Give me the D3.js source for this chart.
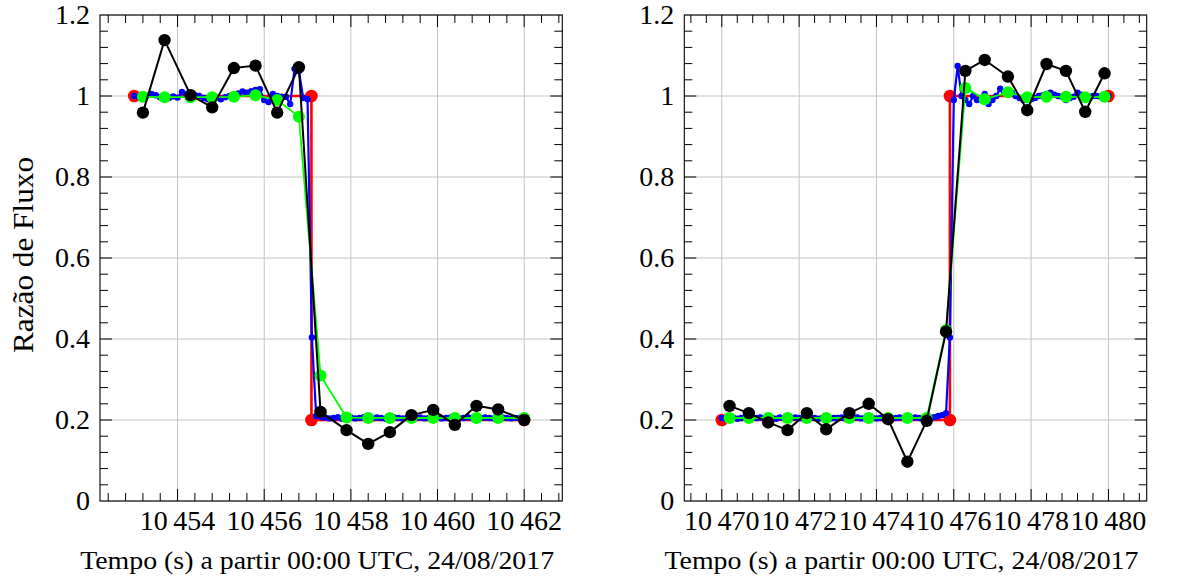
<!DOCTYPE html>
<html><head><meta charset="utf-8">
<script src="https://cdn.jsdelivr.net/npm/d3@7"></script>
<style>body{margin:0;background:#fff}svg{display:block}</style>
</head><body>
<svg id="chart" width="1178" height="583"></svg>
<script>
// ---------- DATA ----------
const yTicks = [0, 0.2, 0.4, 0.6, 0.8, 1, 1.2];
const leftXTicks = [10454, 10456, 10458, 10460, 10462];
const rightXTicks = [10470, 10472, 10474, 10476, 10478, 10480];
const xLabel = "Tempo (s) a partir 00:00 UTC, 24/08/2017";
const yLabel = "Razão de Fluxo";

// Left panel
const leftRedT = [10453.0, 10457.09, 10457.09, 10462.0];
const leftRedV = [1, 1, 0.2, 0.2];
const leftBlueT = [
 10453.0,10453.1,10453.2,10453.3,10453.4,10453.5,10453.6,10453.7,10453.8,10453.9,
 10454.0,10454.1,10454.2,10454.3,10454.4,10454.5,10454.6,10454.7,10454.8,10454.9,
 10455.0,10455.1,10455.2,10455.3,10455.4,10455.5,10455.6,10455.7,10455.8,10455.9,
 10456.0,10456.1,10456.2,10456.3,10456.4,10456.5,10456.6,10456.7,10456.8,10456.9,
 10457.0,10457.1,10457.2,10457.3,10457.4,10457.5,10457.6,10457.7,10457.8,10457.9,
 10458.0,10458.1,10458.2,10458.3,10458.4,10458.5,10458.6,10458.7,10458.8,10458.9,
 10459.0,10459.1,10459.2,10459.3,10459.4,10459.5,10459.6,10459.7,10459.8,10459.9,
 10460.0,10460.1,10460.2,10460.3,10460.4,10460.5,10460.6,10460.7,10460.8,10460.9,
 10461.0,10461.1,10461.2,10461.3,10461.4,10461.5,10461.6,10461.7,10461.8,10461.9,
 10462.0];
const leftBlueV = [
 1.000,0.998,1.003,1.001,1.005,1.002,0.997,0.996,0.995,0.999,
 0.996,1.010,1.004,1.000,1.002,1.000,0.995,0.992,0.998,0.996,
 0.992,0.997,1.000,1.003,1.006,1.011,1.008,1.012,1.015,1.017,
 0.990,0.985,1.005,1.000,0.998,0.998,0.980,1.067,1.062,0.995,
 0.992,0.404,0.210,0.208,0.206,0.204,0.205,0.207,0.203,0.205,
 0.206,0.204,0.205,0.207,0.205,0.204,0.206,0.205,0.203,0.205,
 0.206,0.205,0.204,0.205,0.207,0.205,0.206,0.204,0.205,0.205,
 0.206,0.204,0.205,0.206,0.205,0.204,0.205,0.207,0.205,0.204,
 0.205,0.206,0.205,0.204,0.205,0.206,0.205,0.204,0.205,0.205,
 0.205];
const leftT = [10453.2,10453.7,10454.3,10454.8,10455.3,10455.8,10456.3,10456.8,10457.3,
               10457.9,10458.4,10458.9,10459.4,10459.9,10460.4,10460.9,10461.4,10462.0];
const leftGreenV = [0.998,0.997,0.997,0.997,0.998,1.002,0.990,0.949,0.310,
                    0.206,0.205,0.205,0.205,0.205,0.205,0.205,0.205,0.205];
const leftBlackV = [0.959,1.138,1.002,0.972,1.069,1.075,0.959,1.071,0.220,
                    0.175,0.141,0.170,0.212,0.225,0.188,0.235,0.226,0.200];

// Right panel
const rightRedT = [10470.0, 10475.9, 10475.9, 10480.0];
const rightRedV = [0.2, 0.2, 1, 1];
const rightBlueT = [
 10470.0,10470.1,10470.2,10470.3,10470.4,10470.5,10470.6,10470.7,10470.8,10470.9,
 10471.0,10471.1,10471.2,10471.3,10471.4,10471.5,10471.6,10471.7,10471.8,10471.9,
 10472.0,10472.1,10472.2,10472.3,10472.4,10472.5,10472.6,10472.7,10472.8,10472.9,
 10473.0,10473.1,10473.2,10473.3,10473.4,10473.5,10473.6,10473.7,10473.8,10473.9,
 10474.0,10474.1,10474.2,10474.3,10474.4,10474.5,10474.6,10474.7,10474.8,10474.9,
 10475.0,10475.1,10475.2,10475.3,10475.4,10475.5,10475.6,10475.7,10475.8,10475.9,
 10476.0,10476.1,10476.2,10476.3,10476.4,10476.5,10476.6,10476.7,10476.8,10476.9,
 10477.0,10477.1,10477.2,10477.3,10477.4,10477.5,10477.6,10477.7,10477.8,10477.9,
 10478.0,10478.1,10478.2,10478.3,10478.4,10478.5,10478.6,10478.7,10478.8,10478.9,
 10479.0,10479.1,10479.2,10479.3,10479.4,10479.5,10479.6,10479.7,10479.8,10479.9,
 10480.0];
const rightBlueV = [
 0.205,0.204,0.206,0.205,0.203,0.205,0.206,0.204,0.205,0.205,
 0.206,0.204,0.205,0.205,0.203,0.206,0.205,0.204,0.205,0.206,
 0.205,0.204,0.205,0.206,0.205,0.203,0.205,0.206,0.204,0.205,
 0.205,0.206,0.204,0.205,0.205,0.206,0.204,0.205,0.206,0.205,
 0.204,0.205,0.206,0.205,0.204,0.205,0.206,0.205,0.204,0.205,
 0.206,0.205,0.204,0.205,0.206,0.207,0.210,0.212,0.217,0.404,
 0.990,1.074,1.000,0.990,0.980,1.000,0.990,0.992,1.005,0.980,
 0.990,1.000,1.018,1.010,1.005,1.008,1.000,0.995,0.990,0.990,
 0.992,0.995,1.000,1.002,1.005,1.008,1.003,1.000,0.998,0.990,
 0.995,0.998,1.008,1.003,0.998,0.995,1.000,1.000,0.998,1.000,
 1.000];
const rightT = [10470.2,10470.7,10471.2,10471.7,10472.2,10472.7,10473.3,10473.8,10474.3,10474.8,
                10475.3,10475.8,10476.3,10476.8,10477.4,10477.9,10478.4,10478.9,10479.4,10479.9];
const rightGreenV = [0.205,0.205,0.205,0.205,0.205,0.205,0.205,0.205,0.205,0.205,
                     0.205,0.422,1.020,0.992,1.009,0.997,0.998,0.998,0.997,0.998];
const rightBlackV = [0.235,0.217,0.194,0.175,0.217,0.177,0.217,0.240,0.202,0.097,
                     0.198,0.418,1.062,1.089,1.048,0.965,1.079,1.062,0.961,1.056];

// ---------- DRAWING ----------
const FONT = "'Liberation Serif','Times New Roman',serif";
const svg = d3.select("#chart");
const plotTop = 15, plotBottom = 501;
const fmtX = d3.formatLocale({decimal: ".", thousands: "\u2009", grouping: [3], currency: ["", ""]}).format(",");
const fmtY = d3.format("");

function zip(t, v) { return t.map((d, i) => [d, v[i]]); }

function panel(cfg) {
  const x = d3.scaleLinear().domain(cfg.xDomain).range([cfg.x0, cfg.x1]);
  const y = d3.scaleLinear().domain([0, 1.2]).range([plotBottom, plotTop]);
  const g = svg.append("g");

  // grid
  const grid = g.append("g").attr("stroke", "#c4c4c4").attr("stroke-width", 1);
  cfg.xTicks.forEach(t => grid.append("line").attr("x1", x(t)).attr("x2", x(t)).attr("y1", plotTop).attr("y2", plotBottom));
  yTicks.forEach(t => grid.append("line").attr("x1", cfg.x0).attr("x2", cfg.x1).attr("y1", y(t)).attr("y2", y(t)));

  // ticks
  const tk = g.append("g").attr("stroke", "#000").attr("stroke-width", 1);
  const xMinor = d3.range(cfg.xTicks[0] - 10 * 0.4, cfg.xTicks[cfg.xTicks.length - 1] + 10 * 0.4, 0.4)
    .filter(t => t > cfg.xDomain[0] && t < cfg.xDomain[1]);
  xMinor.forEach(t => {
    const isMajor = cfg.xTicks.some(m => Math.abs(m - t) < 1e-6);
    const L = isMajor ? 12 : 8;
    tk.append("line").attr("x1", x(t)).attr("x2", x(t)).attr("y1", plotBottom).attr("y2", plotBottom - L);
    tk.append("line").attr("x1", x(t)).attr("x2", x(t)).attr("y1", plotTop).attr("y2", plotTop + L);
  });
  d3.range(0, 1.2001, 0.04).forEach(t => {
    const isMajor = yTicks.some(m => Math.abs(m - t) < 1e-6);
    if (t < 1e-6 || t > 1.2 - 1e-6) return;
    const L = isMajor ? 12 : 8;
    tk.append("line").attr("x1", cfg.x0).attr("x2", cfg.x0 + L).attr("y1", y(t)).attr("y2", y(t));
    tk.append("line").attr("x1", cfg.x1).attr("x2", cfg.x1 - L).attr("y1", y(t)).attr("y2", y(t));
  });

  // series
  const line = d3.line().x(d => x(d[0])).y(d => y(d[1]));
  const series = [
    {data: zip(cfg.redT, cfg.redV), color: "#ff0000", w: 2.6, r: 6.3},
    {data: zip(cfg.blueT, cfg.blueV), color: "#0000ff", w: 2.2, r: 3.2},
    {data: zip(cfg.t, cfg.greenV), color: "#00ff00", w: 1.8, r: 6},
    {data: zip(cfg.t, cfg.blackV), color: "#000000", w: 2, r: 6.2}
  ];
  series.forEach(s => {
    const sg = g.append("g");
    sg.append("path").attr("d", line(s.data)).attr("fill", "none")
      .attr("stroke", s.color).attr("stroke-width", s.w).attr("stroke-linejoin", "round");
    sg.selectAll("circle").data(s.data).join("circle")
      .attr("cx", d => x(d[0])).attr("cy", d => y(d[1])).attr("r", s.r).attr("fill", s.color);
  });

  // frame
  g.append("rect").attr("x", cfg.x0).attr("y", plotTop).attr("width", cfg.x1 - cfg.x0)
    .attr("height", plotBottom - plotTop).attr("fill", "none").attr("stroke", "#000").attr("stroke-width", 1.1);

  // tick labels
  const lab = g.append("g").attr("font-family", FONT).attr("fill", "#000");
  cfg.xTicks.forEach(t => lab.append("text").attr("x", x(t)).attr("y", plotBottom + 28.5)
    .attr("text-anchor", "middle").attr("font-size", 28).text(fmtX(t)));
  yTicks.forEach(t => lab.append("text").attr("x", cfg.x0 - 10).attr("y", y(t)).attr("dy", "0.33em")
    .attr("text-anchor", "end").attr("font-size", 28).text(fmtY(t)));

  // axis label
  lab.append("text").attr("x", (cfg.x0 + cfg.x1) / 2 - 14).attr("y", 569)
    .attr("text-anchor", "middle").attr("font-size", 25)
    .attr("textLength", 474).attr("lengthAdjust", "spacingAndGlyphs").text(xLabel);
  if (cfg.yLabel) {
    lab.append("text").attr("transform", `translate(33,${(plotTop + plotBottom) / 2 - 3}) rotate(-90)`)
      .attr("text-anchor", "middle").attr("font-size", 29)
      .attr("textLength", 196).attr("lengthAdjust", "spacingAndGlyphs").text(cfg.yLabel);
  }
}

panel({x0: 100, x1: 562.3, xDomain: [10452.21, 10462.88], xTicks: leftXTicks,
  redT: leftRedT, redV: leftRedV, blueT: leftBlueT, blueV: leftBlueV,
  t: leftT, greenV: leftGreenV, blackV: leftBlackV, yLabel: yLabel});
panel({x0: 684.3, x1: 1146.7, xDomain: [10469.03, 10480.99], xTicks: rightXTicks,
  redT: rightRedT, redV: rightRedV, blueT: rightBlueT, blueV: rightBlueV,
  t: rightT, greenV: rightGreenV, blackV: rightBlackV, yLabel: null});
</script>
</body></html>
